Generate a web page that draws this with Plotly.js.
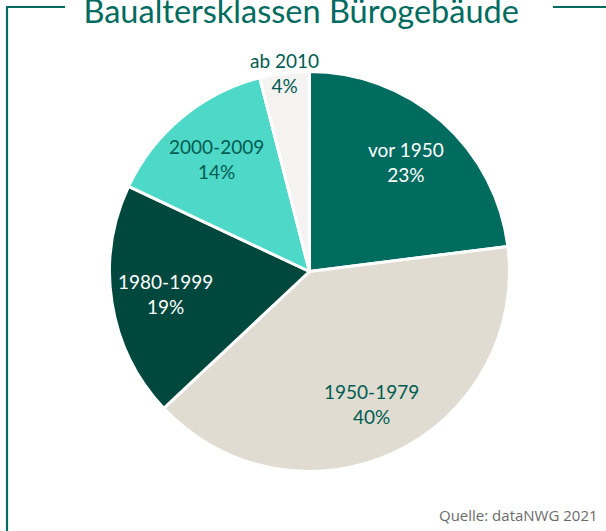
<!DOCTYPE html>
<html>
<head>
<meta charset="utf-8">
<script src="https://cdn.plot.ly/plotly-3.0.1.min.js"></script>
<style>html,body{margin:0;padding:0;background:#fff;}#chart{width:606px;height:531px;}</style>
</head>
<body>
<div id="chart"></div>
<script>
const categories = ["vor 1950", "1950-1979", "1980-1999", "2000-2009", "ab 2010"];
const shares = [23, 40, 19, 14, 4];
const sliceColors = ["#006b5f", "#e0dcd2", "#00483d", "#4dd8c8", "#f4f3f1"];
const labelColors = ["#ffffff", "#005c51", "#ffffff", "#005c51", "#005c51"];
const titleText = "Baualtersklassen Bürogebäude";
const sourceText = "Quelle: dataNWG 2021";

const frameColor = "#006b5f";
const W = 606, H = 531;
const domX = [0.1807, 0.8408], domY = [0.1121, 0.8653];
const fontFam = "Lato, 'Open Sans', sans-serif";

// pie geometry derived from the domain (Plotly uses the smaller side)
const cx = (domX[0] + domX[1]) / 2, cy = (domY[0] + domY[1]) / 2;
const rPx = Math.min((domX[1] - domX[0]) * W, (domY[1] - domY[0]) * H) / 2;
const total = shares.reduce((a, b) => a + b, 0);

const labelAnnotations = [];
let cum = 0;
shares.forEach((v, i) => {
  const mid = (cum + v / 2) / total * 2 * Math.PI; // clockwise from top
  cum += v;
  const f = v < 5 ? 1.0 : 0.73;
  labelAnnotations.push({
    text: categories[i] + "<br>" + v + "%",
    xref: "paper", yref: "paper",
    x: cx + rPx * f * Math.sin(mid) / W,
    y: cy + rPx * f * Math.cos(mid) / H,
    xanchor: "center", yanchor: "middle",
    showarrow: false,
    font: {family: fontFam, size: 19, color: labelColors[i]}
  });
});

const data = [{
  type: "pie",
  labels: categories,
  values: shares,
  sort: false,
  direction: "clockwise",
  rotation: 0,
  marker: {colors: sliceColors, line: {color: "#ffffff", width: 3}},
  textinfo: "none",
  hoverinfo: "none",
  showlegend: false,
  domain: {x: domX, y: domY}
}];

const layout = {
  width: W,
  height: H,
  margin: {l: 0, r: 0, t: 0, b: 0},
  paper_bgcolor: "#ffffff",
  title: {
    text: titleText,
    font: {family: fontFam, size: 32.5, color: "#006b5f"},
    x: 0.497,
    xanchor: "center",
    xref: "paper",
    yref: "container",
    y: 0.957,
    yanchor: "bottom"
  },
  shapes: [
    {type: "line", xref: "paper", yref: "paper", x0: 7/W, x1: 7/W, y0: 0, y1: 1 - 7/H, line: {color: frameColor, width: 2.2}},
    {type: "line", xref: "paper", yref: "paper", x0: 6/W, x1: 65/W, y0: 1 - 7/H, y1: 1 - 7/H, line: {color: frameColor, width: 2.2}},
    {type: "line", xref: "paper", yref: "paper", x0: 553/W, x1: 1, y0: 1 - 7/H, y1: 1 - 7/H, line: {color: frameColor, width: 2.2}}
  ],
  annotations: labelAnnotations.concat([{
    text: sourceText,
    xref: "paper", yref: "paper",
    x: 0.99, y: 0.008,
    xanchor: "right", yanchor: "bottom",
    showarrow: false,
    font: {family: "'Open Sans', sans-serif", size: 15, color: "#6b6b6b"}
  }])
};

Plotly.newPlot("chart", data, layout, {displayModeBar: false, staticPlot: true});
</script>
</body>
</html>
